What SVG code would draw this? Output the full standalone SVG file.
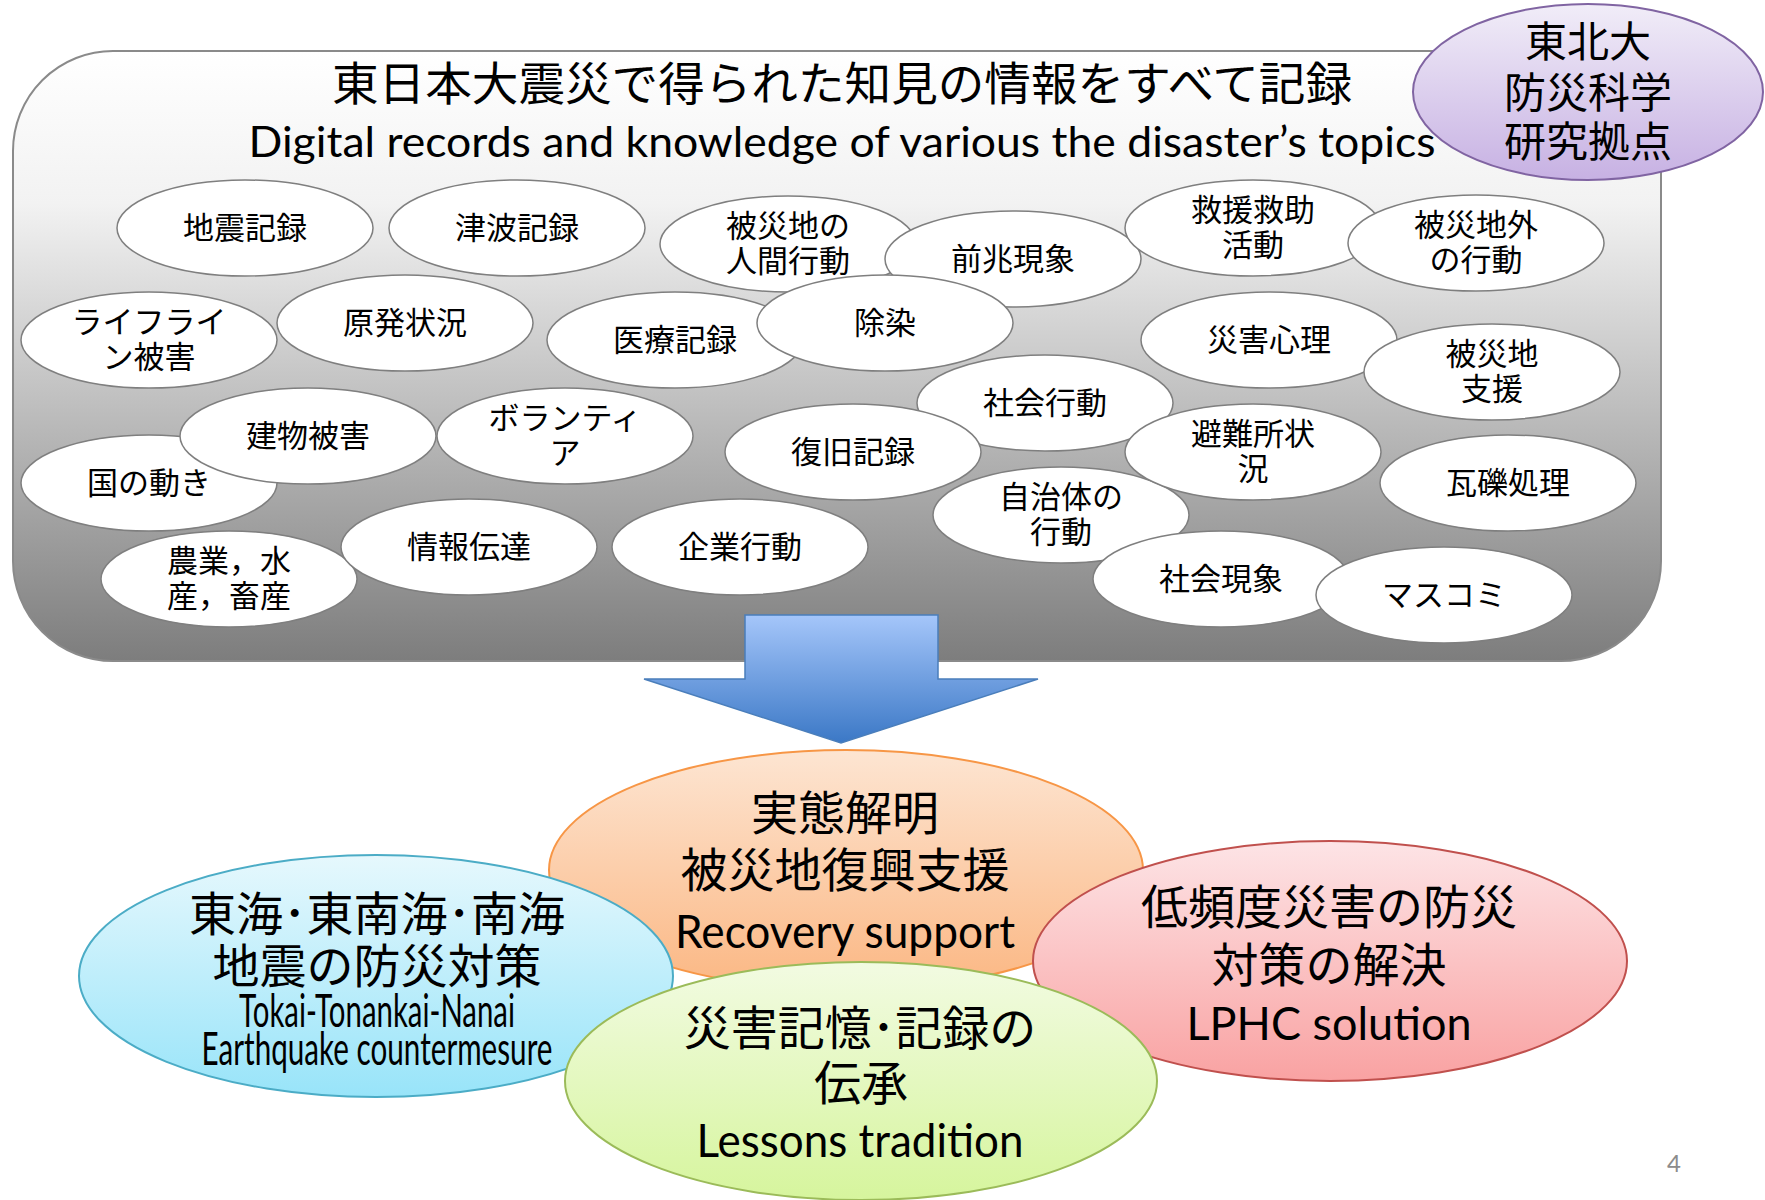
<svg xmlns="http://www.w3.org/2000/svg" width="1765" height="1200" viewBox="0 0 1765 1200">
<defs>
<linearGradient id="gBox" x1="0" y1="0" x2="0" y2="1"><stop offset="0" stop-color="#ffffff"/><stop offset="0.25" stop-color="#f2f2f2"/><stop offset="1" stop-color="#7d7d7d"/></linearGradient>
<linearGradient id="gPur" x1="0" y1="0" x2="0" y2="1"><stop offset="0" stop-color="#f1edf8"/><stop offset="1" stop-color="#c7b1e3"/></linearGradient>
<linearGradient id="gArr" x1="0" y1="0" x2="0" y2="1"><stop offset="0" stop-color="#a5c6fa"/><stop offset="1" stop-color="#3b78c6"/></linearGradient>
<linearGradient id="gOr" x1="0" y1="0" x2="0" y2="1"><stop offset="0" stop-color="#fde5d2"/><stop offset="1" stop-color="#fbb783"/></linearGradient>
<linearGradient id="gBl" x1="0" y1="0" x2="0" y2="1"><stop offset="0" stop-color="#e6f8fd"/><stop offset="1" stop-color="#98e4f9"/></linearGradient>
<linearGradient id="gRd" x1="0" y1="0" x2="0" y2="1"><stop offset="0" stop-color="#fde4e6"/><stop offset="1" stop-color="#f9a2a2"/></linearGradient>
<linearGradient id="gGr" x1="0" y1="0" x2="0" y2="1"><stop offset="0" stop-color="#f2fbe2"/><stop offset="1" stop-color="#d6f59d"/></linearGradient>
<style>
.n ellipse{fill:#fff;stroke:#7f7f7f;stroke-width:1.5}
.n text{font-family:"Noto Sans CJK JP",sans-serif;font-size:31px;text-anchor:middle;fill:#000}
.big text{font-family:"Noto Sans CJK JP",sans-serif;font-size:47px;text-anchor:middle;fill:#000}
.big text.en{font-family:Lato,"Liberation Sans",sans-serif}
.ttl{font-family:"Noto Sans CJK JP",sans-serif;text-anchor:middle;fill:#000}
</style>
</defs>
<rect width="1765" height="1200" fill="#fff"/>
<g id="box">
<rect x="13" y="51" width="1648" height="610" rx="100" ry="100" fill="url(#gBox)" stroke="#8a8a8a" stroke-width="2"/>
<text class="ttl" x="842" y="100" font-size="46" textLength="1020" lengthAdjust="spacingAndGlyphs">東日本大震災で得られた知見の情報をすべて記録</text>
<text x="842" y="157" font-family="Lato,'Liberation Sans',sans-serif" font-size="43" text-anchor="middle" textLength="1187" lengthAdjust="spacingAndGlyphs" fill="#000">Digital records and knowledge of various the disaster’s topics</text>
</g>
<g id="tohoku">
<ellipse cx="1588" cy="92" rx="175" ry="88" fill="url(#gPur)" stroke="#8064a2" stroke-width="2"/>
<text class="ttl" x="1588" y="57" font-size="42">東北大</text>
<text class="ttl" x="1588" y="108" font-size="42">防災科学</text>
<text class="ttl" x="1588" y="157" font-size="42">研究拠点</text>
</g>
<g id="n1" class="n"><ellipse cx="245" cy="228" rx="128" ry="48"/><text x="245" y="239">地震記録</text></g>
<g id="n2" class="n"><ellipse cx="517" cy="228" rx="128" ry="48"/><text x="517" y="239">津波記録</text></g>
<g id="n3" class="n"><ellipse cx="788" cy="244" rx="128" ry="48"/><text x="788" y="237">被災地の</text><text x="788" y="272">人間行動</text></g>
<g id="n4" class="n"><ellipse cx="1013" cy="259" rx="128" ry="48"/><text x="1013" y="270">前兆現象</text></g>
<g id="n5" class="n"><ellipse cx="1253" cy="228" rx="128" ry="48"/><text x="1253" y="221">救援救助</text><text x="1253" y="256">活動</text></g>
<g id="n6" class="n"><ellipse cx="1476" cy="243" rx="128" ry="48"/><text x="1476" y="236">被災地外</text><text x="1476" y="271">の行動</text></g>
<g id="n7" class="n"><ellipse cx="149" cy="340" rx="128" ry="48"/><text x="149" y="333">ライフライ</text><text x="149" y="368">ン被害</text></g>
<g id="n8" class="n"><ellipse cx="405" cy="323" rx="128" ry="48"/><text x="405" y="334">原発状況</text></g>
<g id="n9" class="n"><ellipse cx="675" cy="340" rx="128" ry="48"/><text x="675" y="351">医療記録</text></g>
<g id="n10" class="n"><ellipse cx="885" cy="323" rx="128" ry="48"/><text x="885" y="334">除染</text></g>
<g id="n11" class="n"><ellipse cx="1269" cy="340" rx="128" ry="48"/><text x="1269" y="351">災害心理</text></g>
<g id="n12" class="n"><ellipse cx="1492" cy="372" rx="128" ry="48"/><text x="1492" y="365">被災地</text><text x="1492" y="400">支援</text></g>
<g id="n13" class="n"><ellipse cx="1045" cy="403" rx="128" ry="48"/><text x="1045" y="414">社会行動</text></g>
<g id="n14" class="n"><ellipse cx="149" cy="483" rx="128" ry="48"/><text x="149" y="494">国の動き</text></g>
<g id="n15" class="n"><ellipse cx="308" cy="436" rx="128" ry="48"/><text x="308" y="447">建物被害</text></g>
<g id="n16" class="n"><ellipse cx="565" cy="436" rx="128" ry="48"/><text x="565" y="429">ボランティ</text><text x="565" y="464">ア</text></g>
<g id="n17" class="n"><ellipse cx="853" cy="452" rx="128" ry="48"/><text x="853" y="463">復旧記録</text></g>
<g id="n18" class="n"><ellipse cx="1061" cy="515" rx="128" ry="48"/><text x="1061" y="508">自治体の</text><text x="1061" y="543">行動</text></g>
<g id="n19" class="n"><ellipse cx="1253" cy="452" rx="128" ry="48"/><text x="1253" y="445">避難所状</text><text x="1253" y="480">況</text></g>
<g id="n20" class="n"><ellipse cx="1508" cy="483" rx="128" ry="48"/><text x="1508" y="494">瓦礫処理</text></g>
<g id="n21" class="n"><ellipse cx="229" cy="579" rx="128" ry="48"/><text x="229" y="572">農業，水</text><text x="229" y="607">産，畜産</text></g>
<g id="n22" class="n"><ellipse cx="469" cy="547" rx="128" ry="48"/><text x="469" y="558">情報伝達</text></g>
<g id="n23" class="n"><ellipse cx="740" cy="547" rx="128" ry="48"/><text x="740" y="558">企業行動</text></g>
<g id="n24" class="n"><ellipse cx="1221" cy="579" rx="128" ry="48"/><text x="1221" y="590">社会現象</text></g>
<g id="n25" class="n"><ellipse cx="1444" cy="595" rx="128" ry="48"/><text x="1444" y="606">マスコミ</text></g>
<g id="connectors">
<path d="M745,615 H938 V679 H1038 L841,743 L644,679 H745 Z" fill="url(#gArr)" stroke="#4a7ebb" stroke-width="1.5"/>
</g>
<g id="orange" class="big">
<ellipse cx="846" cy="870" rx="297" ry="120" fill="url(#gOr)" stroke="#f79646" stroke-width="2"/>
<text x="845" y="830">実態解明</text>
<text x="845" y="887">被災地復興支援</text>
<text class="en" x="845" y="948" font-size="44" textLength="340" lengthAdjust="spacingAndGlyphs">Recovery support</text>
</g>
<g id="blue" class="big">
<ellipse cx="376" cy="976" rx="297" ry="121" fill="url(#gBl)" stroke="#4bacc6" stroke-width="2"/>
<text x="377" y="931">東海･東南海･南海</text>
<text x="377" y="983">地震の防災対策</text>
<text class="en" x="377" y="1027" font-size="28" textLength="276" lengthAdjust="spacingAndGlyphs">Tokai-Tonankai-Nanai</text>
<text class="en" x="377" y="1065" font-size="28" textLength="351" lengthAdjust="spacingAndGlyphs">Earthquake countermesure</text>
</g>
<g id="red" class="big">
<ellipse cx="1330" cy="961" rx="297" ry="120" fill="url(#gRd)" stroke="#c0504d" stroke-width="2"/>
<text x="1329" y="924">低頻度災害の防災</text>
<text x="1329" y="982">対策の解決</text>
<text class="en" x="1329" y="1040" font-size="46" textLength="285" lengthAdjust="spacingAndGlyphs">LPHC solution</text>
</g>
<g id="green" class="big">
<ellipse cx="861" cy="1081" rx="296" ry="119" fill="url(#gGr)" stroke="#9bbb59" stroke-width="2"/>
<text x="860" y="1045">災害記憶･記録の</text>
<text x="861" y="1100">伝承</text>
<text class="en" x="860" y="1157" font-size="46" textLength="327" lengthAdjust="spacingAndGlyphs">Lessons tradition</text>
</g>
<text x="1674" y="1172" font-family="Lato,'Liberation Sans',sans-serif" font-size="24" fill="#8c8c8c" text-anchor="middle">4</text>
</svg>
